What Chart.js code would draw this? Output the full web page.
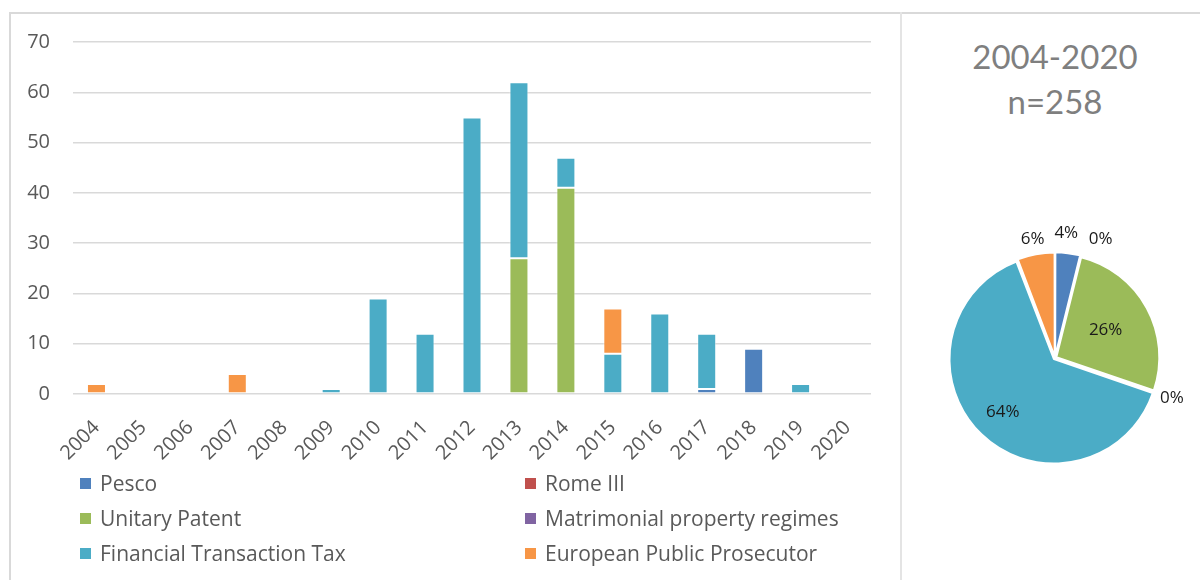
<!DOCTYPE html>
<html>
<head>
<meta charset="utf-8">
<script src="https://cdn.jsdelivr.net/npm/chart.js@4.4.1/dist/chart.umd.min.js"></script>
<style>
  html, body { margin: 0; padding: 0; background: #fff; }
  body { width: 1200px; height: 580px; position: relative; overflow: hidden; font-family: "Open Sans", sans-serif; }
  .frame-top { position: absolute; left: 9px; top: 12px; width: 1191px; height: 2px; background: #d9d9d9; }
  .frame-left { position: absolute; left: 9px; top: 12px; width: 2px; height: 568px; background: #d9d9d9; }
  .frame-mid { position: absolute; left: 900px; top: 12px; width: 2px; height: 568px; background: #e4e4e4; }
  #bar-wrap { position: absolute; left: 11px; top: 14px; width: 889px; height: 456px; }
  #pie-wrap { position: absolute; left: 905px; top: 208px; width: 300px; height: 300px; }
  .pie-title { position: absolute; left: 903px; width: 304px; text-align: center; color: #7f7f7f; font-family: Lato, sans-serif; font-size: 33px; line-height: 45px; top: 34px; }
  .legend { position: absolute; left: 80px; top: 469px; width: 820px; }
  .legend .item { position: absolute; display: flex; align-items: center; color: #595959; font-size: 21px; white-space: nowrap; }
  .legend .box { width: 11px; height: 11px; margin-right: 9px; }
</style>
</head>
<body>
<div class="frame-top"></div>
<div class="frame-left"></div>
<div class="frame-mid"></div>
<div id="bar-wrap"><canvas id="bar"></canvas></div>
<div class="pie-title">2004-2020<br>n=258</div>
<div id="pie-wrap"><canvas id="pie"></canvas></div>
<div class="legend" id="legend"></div>

<script>
  // ── Data ───────────────────────────────────────────────────────
  const years = ['2004', '2005', '2006', '2007', '2008', '2009', '2010', '2011', '2012',
    '2013', '2014', '2015', '2016', '2017', '2018', '2019', '2020'];

  const seriesNames = ['Pesco', 'Rome III', 'Unitary Patent', 'Matrimonial property regimes',
    'Financial Transaction Tax', 'European Public Prosecutor'];

  const pesco         = [0, 0, 0, 0, 0, 0, 0, 0, 0, 0, 0, 0, 0, 1, 9, 0, 0];
  const romeIII       = [0, 0, 0, 0, 0, 0, 0, 0, 0, 0, 0, 0, 0, 0, 0, 0, 0];
  const unitaryPatent = [0, 0, 0, 0, 0, 0, 0, 0, 0, 27, 41, 0, 0, 0, 0, 0, 0];
  const matrimonial   = [0, 0, 0, 0, 0, 0, 0, 0, 0, 0, 0, 0, 0, 0, 0, 0, 0];
  const ftt           = [0, 0, 0, 0, 0, 1, 19, 12, 55, 35, 6, 8, 16, 11, 0, 2, 0];
  const epp           = [2, 0, 0, 4, 0, 0, 0, 0, 0, 0, 0, 9, 0, 0, 0, 0, 0];

  const yTicks = [0, 10, 20, 30, 40, 50, 60, 70];

  const seriesValues = [pesco, romeIII, unitaryPatent, matrimonial, ftt, epp];
  const colors = ['#4f81bd', '#c0504d', '#9bbb59', '#8064a2', '#4bacc6', '#f79646'];

  // ── Bar chart ──────────────────────────────────────────────────
  const tickFont = { family: 'Open Sans', size: 20 };

  new Chart(document.getElementById('bar'), {
    type: 'bar',
    data: {
      labels: years,
      datasets: seriesNames.map((name, i) => ({
        label: name,
        data: seriesValues[i],
        backgroundColor: colors[i],
        borderColor: 'rgba(255,255,255,0.55)',
        borderWidth: 1,
        borderSkipped: false,
        barPercentage: 0.405,
        categoryPercentage: 1,
      })),
    },
    options: {
      responsive: true,
      maintainAspectRatio: false,
      animation: false,
      layout: { padding: { top: 28, right: 29, left: 0, bottom: 0 } },
      plugins: { legend: { display: false }, tooltip: { enabled: false } },
      scales: {
        x: {
          stacked: true,
          grid: { display: false },
          border: { display: false },
          ticks: { color: '#595959', font: tickFont, minRotation: 45, maxRotation: 45, padding: 14 },
          afterFit: s => { s.height = 76; },
        },
        y: {
          stacked: true,
          min: yTicks[0],
          max: yTicks[yTicks.length - 1],
          afterBuildTicks: s => { s.ticks = yTicks.map(v => ({ value: v })); },
          grid: { color: '#d9d9d9', lineWidth: 1.5, drawTicks: false },
          border: { display: false },
          ticks: { color: '#595959', font: tickFont, padding: 23 },
          // tick padding would otherwise push the plot top down
          afterFit: s => { s.width = 62; s.paddingTop = 0; s.paddingBottom = 0; },
        },
      },
    },
  });

  // ── Legend (two columns) ───────────────────────────────────────
  const legend = document.getElementById('legend');
  seriesNames.forEach((name, i) => {
    const item = document.createElement('div');
    item.className = 'item';
    item.style.left = (i % 2 === 0 ? 0 : 445) + 'px';
    item.style.top = (Math.floor(i / 2) * 35) + 'px';
    item.innerHTML = `<span class="box" style="background:${colors[i]}"></span>${name}`;
    legend.appendChild(item);
  });

  // ── Pie chart ──────────────────────────────────────────────────
  const pieTotals = seriesValues.map(arr => arr.reduce((a, b) => a + b, 0));
  const labelRadius = [1.22, 1.27, 0.56, 1.2, 0.73, 1.2];
  const labelNudgeX = [-4, 14, 0, 0, 0, 0];
  const labelNudgeY = [0, 8, 0, 0, 0, 3];

  const pieLabels = {
    id: 'pieLabels',
    afterDatasetsDraw(chart) {
      const ctx = chart.ctx;
      const meta = chart.getDatasetMeta(0);
      const total = pieTotals.reduce((a, b) => a + b, 0);
      ctx.save();
      ctx.font = '17px "Open Sans"';
      ctx.fillStyle = '#1a1a1a';
      ctx.textAlign = 'center';
      ctx.textBaseline = 'middle';
      meta.data.forEach((arc, i) => {
        const p = arc.getProps(['x', 'y', 'startAngle', 'endAngle', 'outerRadius'], true);
        const mid = (p.startAngle + p.endAngle) / 2;
        const r = p.outerRadius * labelRadius[i];
        const x = p.x + Math.cos(mid) * r + labelNudgeX[i];
        const y = p.y + Math.sin(mid) * r + labelNudgeY[i];
        ctx.fillText(Math.round(pieTotals[i] / total * 100) + '%', x, y);
      });
      ctx.restore();
    },
  };

  new Chart(document.getElementById('pie'), {
    type: 'pie',
    data: {
      labels: seriesNames,
      datasets: [{
        data: pieTotals,
        backgroundColor: colors,
        borderColor: '#fff',
        borderWidth: 2,
        offset: 6,
      }],
    },
    options: {
      responsive: true,
      maintainAspectRatio: false,
      animation: false,
      layout: { padding: 43 },
      plugins: { legend: { display: false }, tooltip: { enabled: false } },
    },
    plugins: [pieLabels],
  });
</script>
</body>
</html>
